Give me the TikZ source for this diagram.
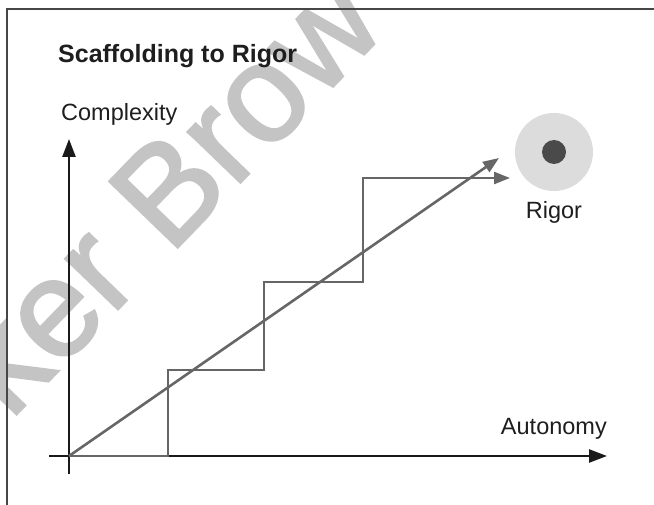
\documentclass[tikz,border=0pt]{standalone}
\usepackage{fontspec}
\setmainfont{Liberation Sans}
\newfontfamily\wmfont[FakeBold=1.8]{Liberation Sans}
\usetikzlibrary{arrows.meta}
\definecolor{wm}{RGB}{196,196,196}
\definecolor{stair}{RGB}{102,102,102}
\definecolor{axis}{RGB}{26,26,26}
\definecolor{framec}{RGB}{70,70,70}
\definecolor{halo}{RGB}{220,220,220}
\definecolor{core}{RGB}{74,74,74}
\definecolor{txt}{RGB}{30,30,30}
\begin{document}
\begin{tikzpicture}[x=1pt,y=-1pt,
  axisline/.style={draw=axis,line width=2.4pt,-{Triangle[length=18pt,width=13pt]}},
  stairline/.style={draw=stair,line width=2.6pt,line join=miter,-{Triangle[length=16pt,width=12pt]}},
  lbl/.style={font=\fontsize{23.5}{28}\selectfont,text=txt,inner sep=0pt},
  ttl/.style={font=\bfseries\fontsize{25}{30}\selectfont,text=txt,inner sep=0pt},
  wmark/.style={font=\wmfont\fontsize{138}{150}\selectfont,text=wm,inner sep=0pt,rotate=46}]
\useasboundingbox (0,0) rectangle (654,505);
\clip (0,0) rectangle (654,505);
% watermark
\node[wmark,anchor=base west] (wmtext) at (10,421) {ker Brow};
% frame
\coordinate (fb) at (7,506);
\coordinate (fc) at (7,9);
\coordinate (fr) at (655,9);
\draw[framec,line width=1.4pt] (fb) -- (fc) -- (fr);
% axes
\coordinate (O) at (69,456);
\coordinate (ybot) at (69,474);
\coordinate (ytop) at (69,139);
\coordinate (xl) at (49,456);
\coordinate (xr) at (607,456);
\draw[axisline] (ybot) -- (ytop);
\draw[axisline] (xl) -- (xr);
% staircase
\coordinate (s1) at (168,370);
\coordinate (s2) at (264,282);
\coordinate (s3) at (363,178);
\coordinate (send) at (510,178);
\draw[stairline] (O) -| (s1) -| (s2) -| (s3) -- (send);
% diagonal
\coordinate (dend) at (499,158);
\draw[stairline] (O) -- (dend);
% rigor target
\node[circle,fill=halo,minimum size=78pt,inner sep=0pt] (rigor) at (554,152) {};
\node[circle,fill=core,minimum size=24pt,inner sep=0pt] (core) at (rigor.center) {};
% texts
\node[ttl,anchor=base west] (title) at (58,63) {Scaffolding to Rigor};
\node[lbl,anchor=base west] (ylab) at (61,121) {Complexity};
\node[lbl,anchor=base east] (xlab) at (607,435) {Autonomy};
\node[lbl,anchor=base] (rlab) at (554,219) {Rigor};
\end{tikzpicture}
\end{document}
